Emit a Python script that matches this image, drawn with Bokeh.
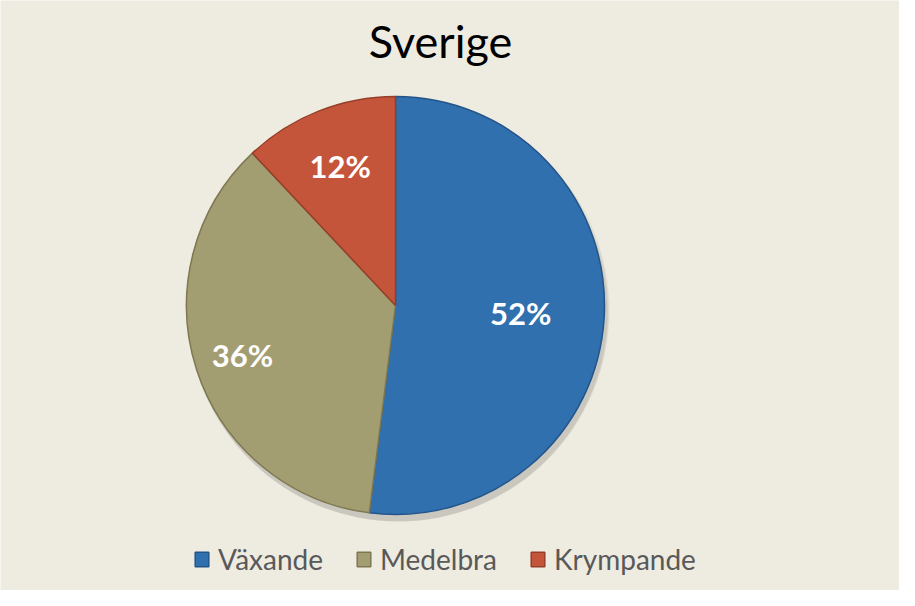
import math
from bokeh.plotting import figure
from bokeh.models import ColumnDataSource, Legend, LegendItem
from bokeh.core.properties import value
from bokeh.embed import file_html
from bokeh.resources import INLINE

title_text = "Sverige"
categories = ["Växande", "Medelbra", "Krympande"]
shares = [52, 36, 12]
colors = ["#3070AE", "#A39D72", "#C4553A"]
edge_colors = ["#24558A", "#7E7852", "#963E28"]

W, H = 899, 590
BG = "#EEEBE0"
cx, cy, R = 395, 285, 209

p = figure(width=W, height=H, x_range=(0, W), y_range=(0, H),
           output_backend="svg", toolbar_location=None, min_border=0,
           background_fill_color=BG, border_fill_color=BG)
p.axis.visible = False
p.grid.visible = False
p.outline_line_color = None

total = sum(shares)
starts, ends = [], []
acc = 0.0
for v in shares:
    a0 = math.pi / 2 - 2 * math.pi * acc / total
    acc += v
    a1 = math.pi / 2 - 2 * math.pi * acc / total
    starts.append(a1)
    ends.append(a0)

# soft shadow
for k, a in enumerate([0.05, 0.05, 0.05]):
    p.circle(x=[cx + 3], y=[cy - 5 - k], radius=R + 2 - k, fill_color="#000000",
             fill_alpha=a, line_color=None)

renderers = []
for i, cat in enumerate(categories):
    src = ColumnDataSource(dict(x=[cx], y=[cy], s=[starts[i]], e=[ends[i]]))
    r = p.wedge(x="x", y="y", radius=R, start_angle="s", end_angle="e",
                fill_color=colors[i], line_color=edge_colors[i], line_width=1.5,
                source=src)
    renderers.append(r)

# labels
label_frac = [0.6, 0.77, 0.72]
lx, ly, lt = [], [], []
for i, v in enumerate(shares):
    mid = (starts[i] + ends[i]) / 2
    lx.append(cx + R * label_frac[i] * math.cos(mid))
    ly.append(cy + R * label_frac[i] * math.sin(mid))
    lt.append(f"{v}%")
p.text(x=lx, y=ly, text=lt, text_color="white", text_font=value("Lato"),
       text_font_style="bold", text_font_size="31px", text_align="center",
       text_baseline="middle")

p.text(x=[440], y=[550], text=[title_text], text_color="#000000",
       text_font=value("Lato"), text_font_size="45px", text_align="center",
       text_baseline="middle")

legend = Legend(items=[LegendItem(label=c, renderers=[r]) for c, r in zip(categories, renderers)],
                orientation="horizontal", location=(193, 14),
                label_text_font="Lato", label_text_font_size="28px",
                label_text_color="#595959", glyph_width=17, glyph_height=18,
                label_standoff=8, spacing=32, padding=4, margin=0,
                background_fill_alpha=0, border_line_color=None)
p.add_layout(legend)

open("out.html", "w").write(file_html(p, INLINE))
